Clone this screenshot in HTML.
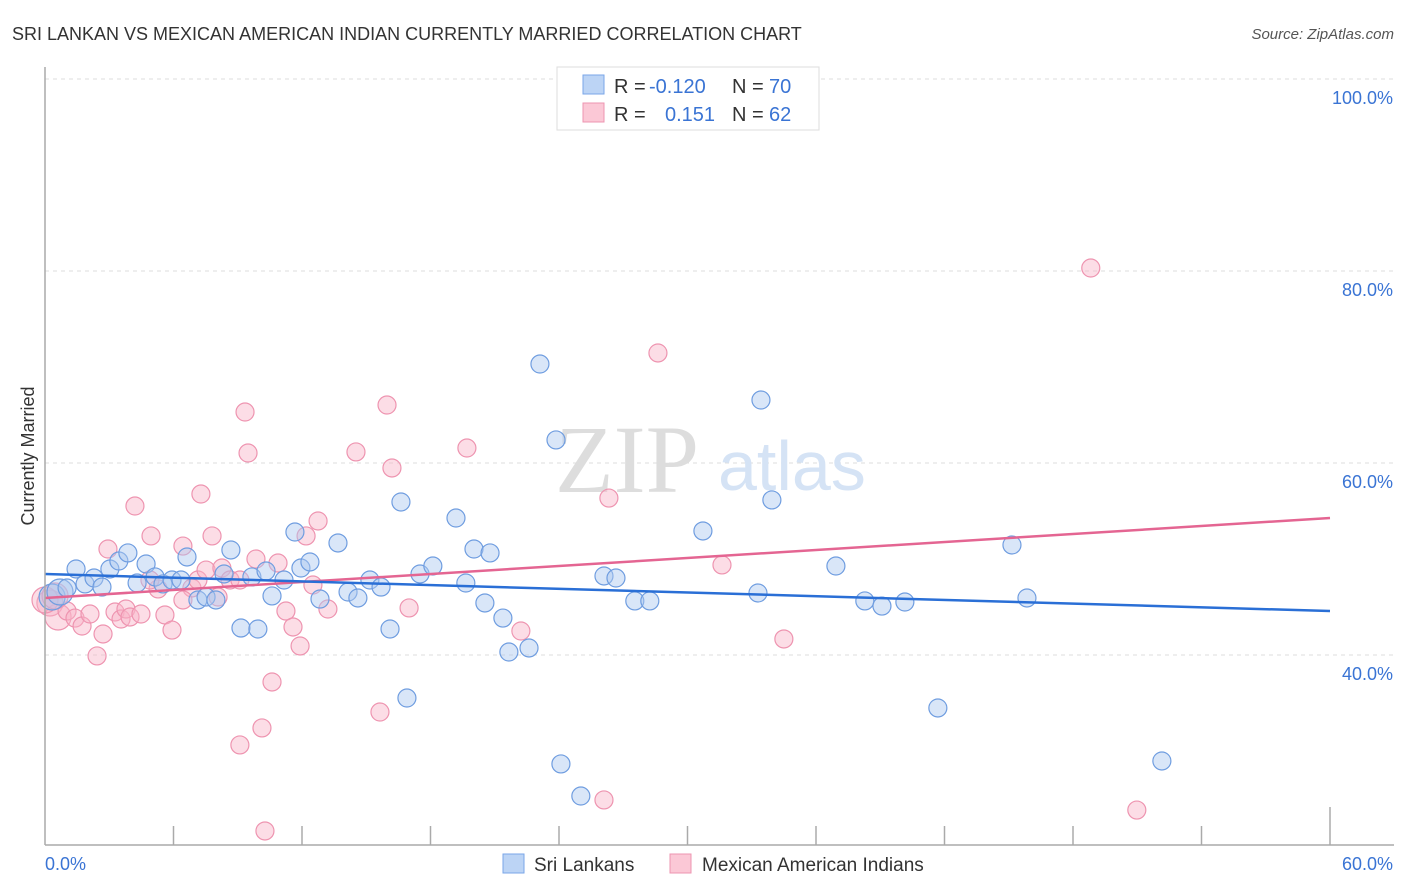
<!DOCTYPE html>
<html><head><meta charset="utf-8"><style>
body{margin:0;background:#fff;font-family:"Liberation Sans",sans-serif;}
svg{display:block}
</style></head><body>
<svg id="c" width="1406" height="892" viewBox="0 0 1406 892">
<text x="12" y="40" font-size="18" fill="#333">SRI LANKAN VS MEXICAN AMERICAN INDIAN CURRENTLY MARRIED CORRELATION CHART</text>
<text x="1394" y="39" font-size="15" fill="#555" font-style="italic" text-anchor="end">Source: ZipAtlas.com</text>
<text x="34" y="456" font-size="18" fill="#333" text-anchor="middle" transform="rotate(-90 34 456)">Currently Married</text>
<g id="grid"></g>
<text x="555" y="492" font-size="96" fill="#ddd" font-family="Liberation Serif,serif">ZIP</text>
<text x="718" y="490" font-size="70" fill="#d5e3f5">atlas</text>
<g id="pts"></g>
<g id="lines"></g>
<g id="axes"></g>
<g>
<rect x="557" y="67" width="262" height="63" fill="#fff" stroke="#ddd"/>
<rect x="583" y="75" width="21" height="19" fill="#bcd4f5" stroke="#7aa6e8"/>
<rect x="583" y="103" width="21" height="19" fill="#fbc8d6" stroke="#ee94b0"/>
<text y="93" font-size="20"><tspan x="614" fill="#333">R = </tspan><tspan x="649" fill="#3a74d4">-0.120</tspan><tspan x="732" fill="#333">N = </tspan><tspan x="769" fill="#3a74d4">70</tspan></text>
<text y="121" font-size="20"><tspan x="614" fill="#333">R = </tspan><tspan x="665" fill="#3a74d4">0.151</tspan><tspan x="732" fill="#333">N = </tspan><tspan x="769" fill="#3a74d4">62</tspan></text>
</g>
<g>
<rect x="503" y="854" width="21" height="19" fill="#bcd4f5" stroke="#7aa6e8"/>
<text x="534" y="871" font-size="19" fill="#333">Sri Lankans</text>
<rect x="670" y="854" width="21" height="19" fill="#fbc8d6" stroke="#ee94b0"/>
<text x="702" y="871" font-size="19" fill="#333">Mexican American Indians</text>
</g>
</svg>
<script>
const yTicks=[40,60,80,100];
const yTickLabels=["40.0%","60.0%","80.0%","100.0%"];
const blueX=[0.33,0.70,1.03,1.45,1.87,2.29,2.66,3.03,3.45,3.87,4.30,4.72,5.14,5.51,5.93,6.35,6.63,7.14,7.52,7.98,8.36,8.68,9.15,9.66,9.94,10.32,10.60,11.16,11.67,11.95,12.37,12.84,13.68,14.15,14.61,15.17,15.69,16.11,16.62,16.90,17.51,18.11,19.19,19.65,20.03,20.54,20.78,21.38,21.66,22.60,23.11,23.86,24.09,25.02,26.10,26.66,27.54,28.24,30.72,33.29,33.43,33.94,36.93,38.28,39.08,40.15,41.69,45.15,45.85,52.15];
const blueY=[46.04,46.56,46.98,48.96,47.40,48.02,47.08,48.96,49.79,50.63,47.50,49.48,48.13,47.40,47.81,47.81,50.21,45.73,46.04,45.73,48.44,50.94,42.81,48.13,42.71,48.75,46.15,47.81,52.81,49.06,49.69,45.83,51.67,46.56,45.94,47.81,47.08,42.71,55.94,35.52,48.44,49.27,54.27,47.50,51.04,45.42,50.63,43.85,40.31,40.73,70.31,62.40,28.65,25.31,48.23,48.02,45.63,45.63,52.92,46.46,66.56,56.15,49.27,45.63,45.10,45.52,34.48,51.46,45.94,28.96];
const pinkX=[0.23,0.61,1.03,1.40,1.73,2.10,2.43,2.71,2.94,3.27,3.55,3.78,3.97,4.20,4.48,4.95,5.28,5.60,5.93,6.44,6.86,7.14,7.28,7.52,7.80,8.08,8.26,8.64,9.10,9.34,9.48,9.85,10.13,10.27,10.60,10.88,11.25,11.58,11.91,12.19,12.51,12.75,13.21,14.52,15.64,15.97,16.20,17.00,19.70,22.22,26.10,26.33,28.62,31.61,34.50,48.83,50.98,0,0.47,6.44,9.10,4.90];
const pinkY=[45.42,43.96,44.58,43.85,43.02,44.27,39.90,42.19,51.04,44.48,43.75,44.79,43.96,55.52,44.27,52.40,46.88,44.17,42.60,51.35,46.98,47.81,56.77,48.85,52.40,46.04,49.06,47.81,30.63,65.31,61.04,50.0,32.40,21.67,37.19,49.58,44.58,42.92,40.94,52.40,47.29,53.96,44.79,61.15,34.06,66.04,59.48,44.90,61.56,42.50,24.90,56.35,71.46,49.38,41.67,80.31,23.85,45.73,46.15,45.73,47.81,47.81];
const blueTrend=[48.44,44.58];
const pinkTrend=[45.94,54.27];
const NS="http://www.w3.org/2000/svg";
const X=v=>45+v/60*1285;
const Y=v=>79+(100-v)*9.6;
function mk(t,a,p){const e=document.createElementNS(NS,t);for(const k in a)e.setAttribute(k,a[k]);p.appendChild(e);return e;}
const grid=document.getElementById('grid');
yTicks.forEach((t,i)=>{
 const l=mk('line',{x1:45,x2:1394,y1:Y(t),y2:Y(t),stroke:'#ddd','stroke-dasharray':'4 4'},grid);
 
 
 const tx=mk('text',{x:1393,y:Y(t)+25,'font-size':18,fill:'#3a74d4','text-anchor':'end'},grid);
 tx.textContent=yTickLabels[i];
 
 
});
const axes=document.getElementById('axes');
let a=mk('line',{x1:45,x2:45,y1:67,y2:845,stroke:'#aaa','stroke-width':1.5},axes);

a=mk('line',{x1:45,x2:1394,y1:845,y2:845,stroke:'#aaa','stroke-width':1.5},axes);

for(let k=1;k<=10;k++){const t=mk('line',{x1:X(k*6),x2:X(k*6),y1:k==10?807:826,y2:845,stroke:'#aaa','stroke-width':1.5},axes);
 }
let xl=mk('text',{x:45,y:870,'font-size':18,fill:'#3a74d4'},axes);xl.textContent='0.0%';

xl=mk('text',{x:1393,y:870,'font-size':18,fill:'#3a74d4','text-anchor':'end'},axes);xl.textContent='60.0%';

const pts=document.getElementById('pts');
function dots(xs,ys,fill,stroke,name){xs.forEach((x,i)=>{
 const c=mk('circle',{cx:X(x),cy:Y(ys[i]),r:(x<0.8?13:9),fill:fill,stroke:stroke,'stroke-width':1.2},pts);
 
 
});}
dots(pinkX,pinkY,'rgba(248,180,200,0.45)','#ee94b0','pink-point');
dots(blueX,blueY,'rgba(170,200,240,0.45)','#6f9de0','blue-point');
const lines=document.getElementById('lines');
let tl=mk('line',{x1:X(0),x2:X(60),y1:Y(pinkTrend[0]),y2:Y(pinkTrend[1]),stroke:'#e46592','stroke-width':2.5},lines);

tl=mk('line',{x1:X(0),x2:X(60),y1:Y(blueTrend[0]),y2:Y(blueTrend[1]),stroke:'#2a6fd6','stroke-width':2.5},lines);

</script>
</body></html>
